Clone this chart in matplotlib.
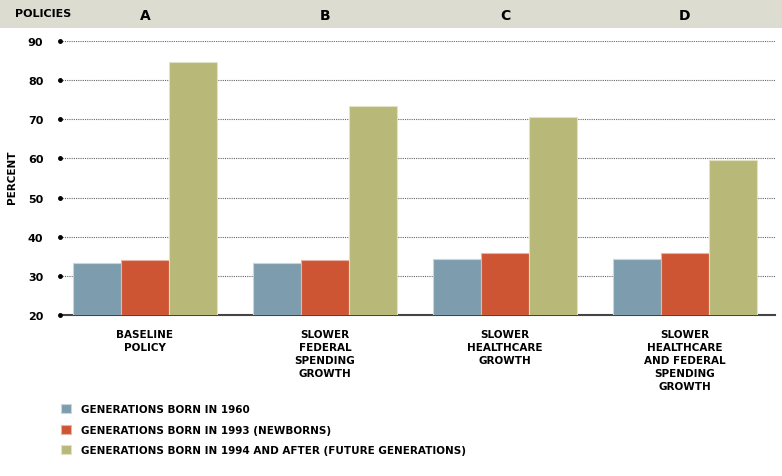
import matplotlib.pyplot as plt
import numpy as np

# Data
policies = ['A', 'B', 'C', 'D']
categories = ['BASELINE\nPOLICY',
              'SLOWER\nFEDERAL\nSPENDING\nGROWTH',
              'SLOWER\nHEALTHCARE\nGROWTH',
              'SLOWER\nHEALTHCARE\nAND FEDERAL\nSPENDING\nGROWTH']
series_names = ['GENERATIONS BORN IN 1960',
                'GENERATIONS BORN IN 1993 (NEWBORNS)',
                'GENERATIONS BORN IN 1994 AND AFTER (FUTURE GENERATIONS)']
born_1960 = [33.3, 33.3, 34.3, 34.3]
born_1993 = [34.0, 34.0, 35.8, 35.8]
born_1994 = [84.6, 73.3, 70.6, 59.6]
yticks = [20, 30, 40, 50, 60, 70, 80, 90]

colors = ['#7d9cad', '#cd5533', '#b8b878']
edges = ['#c9d6dc', '#eab4a4', '#e2e2c6']

plt.rcParams['font.family'] = 'DejaVu Sans'
W, H = 782, 477
fig = plt.figure(figsize=(W / 100, H / 100), dpi=100)

# header band
band = fig.add_axes([0, 1 - 29 / H, 1, 29 / H])
band.set_facecolor('#dcdcd0')
band.set_xticks([])
band.set_yticks([])
for s in band.spines.values():
    s.set_visible(False)

ax = fig.add_axes([60 / W, 1 - 316 / H, 715 / W, 274 / H])
x = np.arange(len(policies))
w = 0.267
for i, vals in enumerate([born_1960, born_1993, born_1994]):
    ax.bar(x + (i - 1) * w, np.array(vals) - 20, bottom=20, width=w,
           color=colors[i], edgecolor=edges[i], linewidth=0.8,
           label=series_names[i], zorder=3)

ax.set_xlim(-0.472, 3.5)
ax.set_ylim(20, 90)
ax.set_yticks(yticks)
ax.set_yticklabels([str(t) for t in yticks], fontsize=8, fontweight='bold')
ax.tick_params(axis='y', length=0, pad=12)
ax.set_xticks([])
for t in yticks[1:]:
    ax.axhline(t, color='#666666', linestyle=(0, (1, 1)), linewidth=0.8, zorder=1)
ax.plot(np.full(len(yticks), -0.472), yticks, 'o', color='black', markersize=2.5,
        clip_on=False, zorder=4)
for s in ['top', 'right', 'left']:
    ax.spines[s].set_visible(False)
ax.spines['bottom'].set_color('#444444')
ax.spines['bottom'].set_linewidth(1.5)

fig.text(12 / W, 1 - 177 / H, 'PERCENT', fontsize=7.5, fontweight='bold',
         rotation=90, ha='center', va='center')

for xi, cat in zip(x, categories):
    ax.text(xi, 16.5, cat, ha='center', va='top', fontsize=7.5, fontweight='bold',
            linespacing=1.4)

fig.text(15 / W, 1 - 14 / H, 'POLICIES', fontsize=8, fontweight='bold', va='center')
for xi, p in zip(x, policies):
    xd = ax.transData.transform((xi, 0))[0] / fig.dpi / (W / 100)
    fig.text(xd, 1 - 16 / H, p, fontsize=10, fontweight='bold', ha='center', va='center')

handles, labels = ax.get_legend_handles_labels()
fig.legend(handles, labels, loc='upper left', bbox_to_anchor=(52 / W, 1 - 396 / H),
           frameon=False, prop={'weight': 'bold', 'size': 7.5},
           handlelength=0.9, handleheight=0.9, handletextpad=1.0,
           labelspacing=1.0, borderaxespad=0.5)

fig.savefig('out.png', dpi=100)
